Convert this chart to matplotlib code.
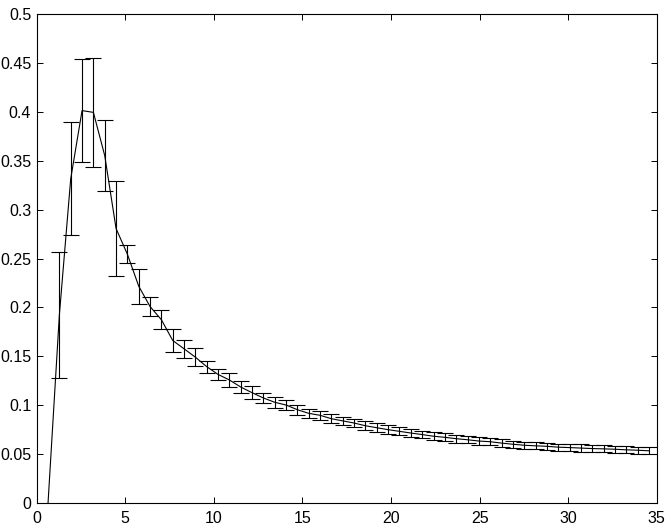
import numpy as np
import matplotlib
matplotlib.use("Agg")
import matplotlib.pyplot as plt
import matplotlib.ticker as ticker

# --- data ---
# first point (x=0.64) sits at 0 with no error bar
x_start = [0.64]
y_start = [0.0]

x_vals = [0.64 * k for k in range(2, 55)]
y_mean = [
    0.1925, 0.3316, 0.4013, 0.3995, 0.3553, 0.2807, 0.2544, 0.2217, 0.2009, 0.1874,
    0.1662, 0.1577, 0.1491, 0.1394, 0.1315, 0.1258, 0.1186, 0.1128, 0.1074, 0.1030,
    0.1002, 0.0954, 0.0917, 0.0897, 0.0862, 0.0840, 0.0818, 0.0790, 0.0770, 0.0750,
    0.0733, 0.0716, 0.0700, 0.0683, 0.0672, 0.0658, 0.0647, 0.0634, 0.0627, 0.0613,
    0.0601, 0.0591, 0.0585, 0.0580, 0.0571, 0.0567, 0.0562, 0.0557, 0.0554, 0.0550,
    0.0544, 0.0540, 0.0534,
]
y_err = [
    0.0645, 0.0580, 0.0530, 0.0555, 0.0360, 0.0485, 0.0094, 0.0177, 0.0094, 0.0095,
    0.0120, 0.0090, 0.0090, 0.0060, 0.0060, 0.0068, 0.0065, 0.0068, 0.0054, 0.0058,
    0.0051, 0.0051, 0.0048, 0.0048, 0.0048, 0.0042, 0.0042, 0.0044, 0.0044, 0.0044,
    0.0041, 0.0038, 0.0039, 0.0039, 0.0041, 0.0040, 0.0037, 0.0038, 0.0037, 0.0038,
    0.0036, 0.0036, 0.0036, 0.0037, 0.0036, 0.0036, 0.0037, 0.0036, 0.0036, 0.0036,
    0.0036, 0.0036, 0.0036,
]

x_ticks = [0, 5, 10, 15, 20, 25, 30, 35]
y_ticks = [0, 0.05, 0.1, 0.15, 0.2, 0.25, 0.3, 0.35, 0.4, 0.45, 0.5]

plt.rcParams["font.family"] = ["Liberation Sans", "DejaVu Sans"]

fig = plt.figure(figsize=(6.71, 5.28), dpi=100)
ax = fig.add_axes([0.0547, 0.0473, 0.924, 0.926])

x_all = x_start + x_vals
y_all = y_start + y_mean
ax.plot(x_all, y_all, color="black", linewidth=0.8)
ax.errorbar(x_vals, y_mean, yerr=y_err, fmt="none", ecolor="black",
            elinewidth=0.8, capsize=5.5, capthick=0.8)

ax.set_xlim(0, 35)
ax.set_ylim(0, 0.5)
ax.set_xticks(x_ticks)
ax.set_yticks(y_ticks)
ax.yaxis.set_major_formatter(ticker.FuncFormatter(lambda v, p: f"{v:g}"))
ax.tick_params(direction="in", length=4, width=0.7, labelsize=11.5,
               top=True, right=True)
ax.tick_params(axis="x", pad=6)
ax.tick_params(axis="y", pad=4)
for s in ax.spines.values():
    s.set_linewidth(0.8)

fig.savefig("out.png", dpi=100)
